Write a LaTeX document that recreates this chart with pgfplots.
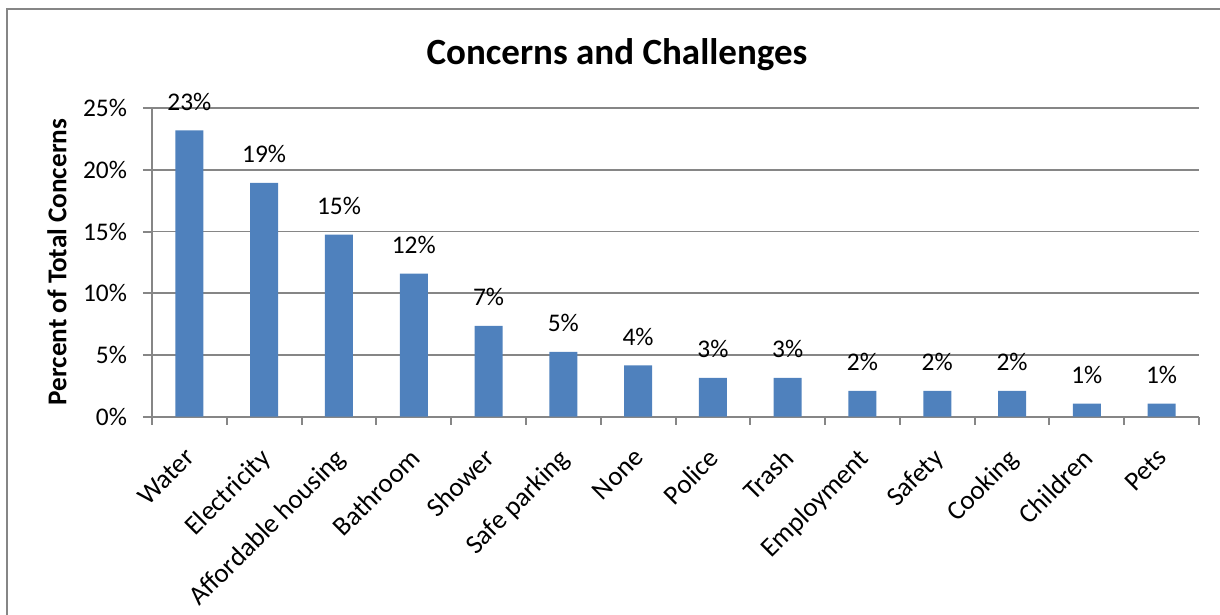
\documentclass[border=0pt]{standalone}
\usepackage{pgfplots}
\pgfplotsset{compat=1.18}
\usepackage{fontspec}
\setmainfont{Carlito}
\definecolor{barblue}{HTML}{4F81BD}
\definecolor{gridgray}{HTML}{868686}
\begin{document}
\begin{tikzpicture}
\path[use as bounding box] (0,0) rectangle (610pt,-307.5pt);
\draw[gridgray, line width=1pt] (3.5pt,-307.5pt) -- (3.5pt,-4.5pt) -- (610pt,-4.5pt);
\node[font=\fontsize{18.5}{22}\selectfont\bfseries] at (308.5pt,-27.5pt) {Concerns and Challenges};
\node[font=\fontsize{13.6}{16}\selectfont\bfseries, rotate=90] at (28.5pt,-131pt) {Percent of Total Concerns};
\begin{axis}[
    at={(76pt,-208.35pt)}, anchor=south west,
    scale only axis, width=523.5pt, height=154.3pt,
    xmin=-0.5, xmax=13.5, ymin=0, ymax=25,
    axis x line=bottom, axis y line=left,
    axis line style={-, gridgray, line width=1pt},
    ytick={0,5,10,15,20,25},
    yticklabels={0\%,5\%,10\%,15\%,20\%,25\%},
    ymajorgrids, grid style={gridgray, line width=0.8pt},
    xtick={0,...,13},
    xticklabels={Water,Electricity,Affordable housing,Bathroom,Shower,Safe parking,None,Police,Trash,Employment,Safety,Cooking,Children,Pets},
    minor xtick={-0.5,0.5,...,13.5},
    tick align=outside,
    major tick length=4.5pt, minor tick length=4pt,
    tick style={gridgray, line width=1pt},
    major x tick style={draw=none},
    xticklabel style={rotate=45, anchor=north east, xshift=-6pt, yshift=-2pt, font=\fontsize{13.5}{15}\selectfont},
    yticklabel style={xshift=-4.5pt, font=\fontsize{12.7}{15}\selectfont},
    ybar, bar width=14pt,
    clip=false,
    /pgf/number format/assume math mode=true,
    nodes near coords={\pgfmathprintnumber[fixed,precision=0]{\pgfplotspointmeta}\%},
    every node near coord/.append style={anchor=base, yshift=10pt, font=\fontsize{12.7}{15}\selectfont, black},
]
\addplot[fill=barblue, draw=none] coordinates {
    (0,23.2)(1,18.95)(2,14.76)(3,11.6)(4,7.35)(5,5.25)(6,4.15)
    (7,3.15)(8,3.15)(9,2.1)(10,2.1)(11,2.1)(12,1.05)(13,1.05)};
\end{axis}
\end{tikzpicture}
\end{document}
